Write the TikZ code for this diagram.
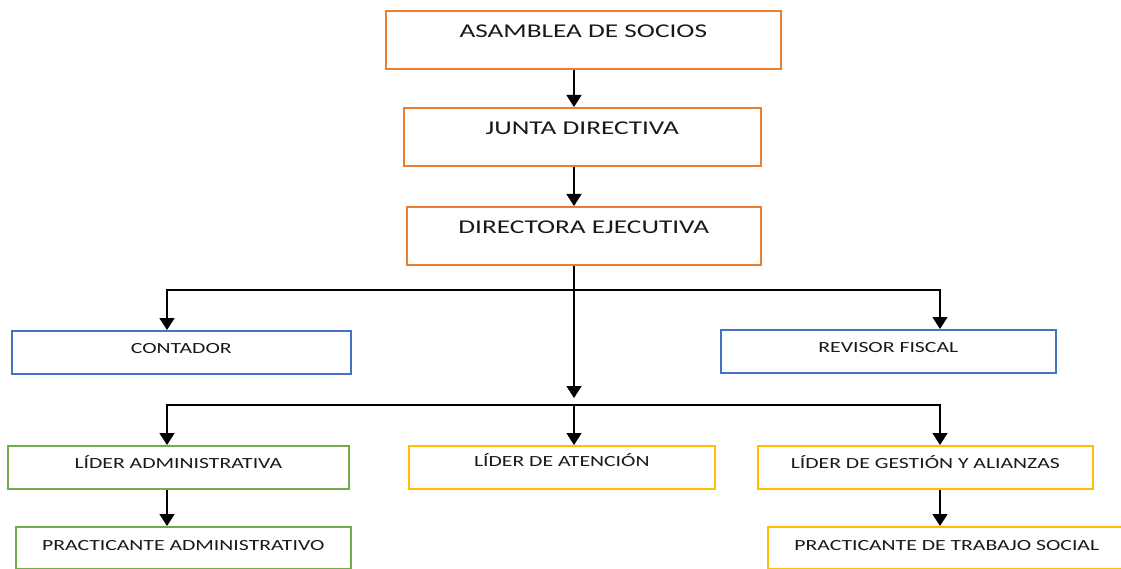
\documentclass[tikz,border=0pt]{standalone}
\usepackage{fontspec}
\newfontfamily\orgfont{Carlito}[FakeStretch=1.4]
\usetikzlibrary{arrows.meta}
\definecolor{boxorange}{HTML}{ED7D31}
\definecolor{boxblue}{HTML}{4472C4}
\definecolor{boxgreen}{HTML}{70AD47}
\definecolor{boxgold}{HTML}{FFC000}
\begin{document}
\begin{tikzpicture}[x=1pt, y=-1pt,
  box/.style={draw, line width=1.6pt, fill=white, inner sep=0pt, anchor=north west, text=black!90, font=\orgfont},
  bigbox/.style={box, draw=boxorange, text height=26.5pt, text depth=32pt, font=\orgfont\fontsize{19.5}{20}\selectfont},
  smallbox/.style={box, text height=22.5pt, text depth=20.5pt, font=\orgfont\fontsize{15.5}{16}\selectfont},
  lowbox/.style={smallbox, text height=23.5pt, text depth=18pt},
  arr/.style={line width=1.6pt, -{Triangle[width=15pt,length=12pt]}}]
\useasboundingbox (0,0) rectangle (1121,569);
\fill[white] (0,0) rectangle (1121,569);
\node[bigbox, minimum width=395pt] (asam) at (385,10) {ASAMBLEA DE SOCIOS};
\node[bigbox, minimum width=357pt] (junta) at (403,107) {JUNTA DIRECTIVA};
\node[bigbox, minimum width=354pt] (dir) at (406,206) {DIRECTORA EJECUTIVA};
\node[smallbox, draw=boxblue, minimum width=339pt] (cont) at (11,330) {CONTADOR};
\node[smallbox, draw=boxblue, minimum width=335pt] (rev) at (720,329) {REVISOR FISCAL};
\node[smallbox, draw=boxgreen, minimum width=341pt] (ladm) at (7,445) {LÍDER ADMINISTRATIVA};
\node[smallbox, draw=boxgold, minimum width=306pt, text height=20.5pt, text depth=22.5pt] (latn) at (408,445) {LÍDER DE ATENCIÓN};
\node[smallbox, draw=boxgold, minimum width=335pt] (lges) at (757,445) {LÍDER DE GESTIÓN Y ALIANZAS};
\node[lowbox, draw=boxgreen, minimum width=335pt] (padm) at (15,526) {PRACTICANTE ADMINISTRATIVO};
\node[lowbox, draw=boxgold, minimum width=358pt] (pts) at (767,526) {PRACTICANTE DE TRABAJO SOCIAL};
\coordinate (spine) at (574,0);
\coordinate (lx) at (167,0);
\coordinate (rx) at (940,0);
\coordinate (bus1) at (574,290);
\coordinate (bus2) at (574,405);
\coordinate (spineend) at (574,398);
\draw[arr] (asam.south -| spine) -- (junta.north -| spine);
\draw[arr] (junta.south -| spine) -- (dir.north -| spine);
\draw[arr] (dir.south -| spine) -- (spineend);
\draw[arr] (bus1) -| (cont.north -| lx);
\draw[arr] (bus1) -| (rev.north -| rx);
\draw[arr] (bus2) -| (ladm.north -| lx);
\draw[arr] (bus2) -| (lges.north -| rx);
\draw[arr] (bus2) -- (latn.north -| spine);
\draw[arr] (ladm.south -| lx) -- (padm.north -| lx);
\draw[arr] (lges.south -| rx) -- (pts.north -| rx);
\end{tikzpicture}
\end{document}
